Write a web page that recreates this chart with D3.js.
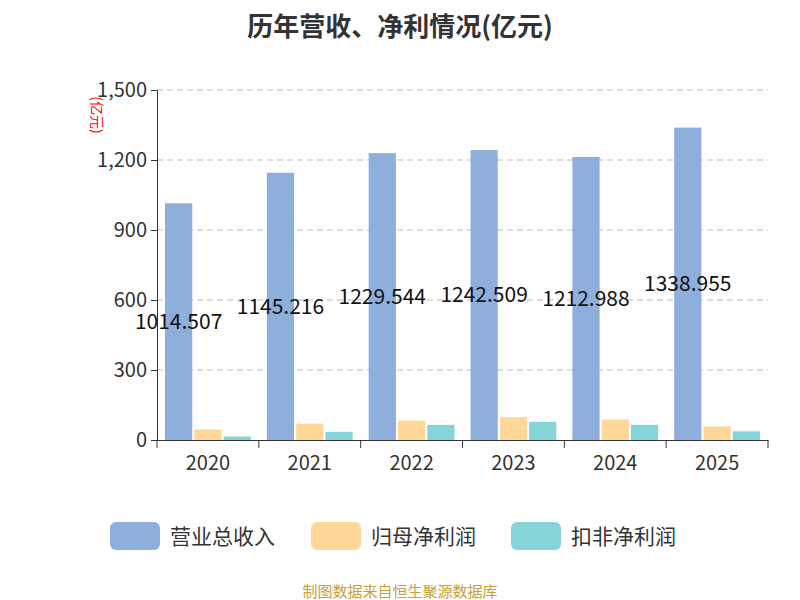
<!DOCTYPE html>
<html><head><meta charset="utf-8">
<script src="https://cdn.jsdelivr.net/npm/d3@7"></script>
<style>body{margin:0;background:#fff}text{font-family:"Noto Sans CJK SC","Noto Sans",sans-serif}</style>
</head><body><svg width="800" height="600"></svg>
<script>
"use strict";
const years = ["2020", "2021", "2022", "2023", "2024", "2025"];
const revenue = [1014.507, 1145.216, 1229.544, 1242.509, 1212.988, 1338.955];
const netProfit = [45, 70, 83, 98, 88, 58];
const deducted = [15, 35, 65, 78, 65, 37];
const seriesNames = ["营业总收入", "归母净利润", "扣非净利润"];
const colors = ["#8eaedb", "#ffd899", "#85d4d8"];
const yTicks = [0, 300, 600, 900, 1200, 1500];

const svg = d3.select("svg");
const plotLeft = 157, plotRight = 768, plotTop = 90, plotBottom = 440;

svg.append("text").attr("x", 400).attr("y", 36).attr("text-anchor", "middle")
   .attr("font-size", 26).attr("font-weight", "bold").attr("fill", "#333")
   .text("历年营收、净利情况(亿元)");

const x = d3.scaleBand().domain(years).range([plotLeft, plotRight]);
const y = d3.scaleLinear().domain([0, 1500]).range([plotBottom, plotTop]);
const inner = d3.scaleBand().domain([0, 1, 2]).range([8, x.bandwidth() - 8]).paddingInner(0.07);

// grid
svg.append("g").selectAll("line").data(yTicks.slice(1)).join("line")
   .attr("x1", plotLeft).attr("x2", plotRight).attr("y1", d => y(d)).attr("y2", d => y(d))
   .attr("stroke", "#bbb").attr("stroke-dasharray", "6,4");

const fmt = d3.format(",");
const yAxis = svg.append("g").attr("transform", `translate(${plotLeft},0)`)
   .call(d3.axisLeft(y).tickValues(yTicks).tickFormat(fmt).tickSize(6).tickPadding(4));
yAxis.selectAll("text").attr("font-size", 20).attr("fill", "#333");
yAxis.selectAll("line,path").attr("stroke", "#333");

const xAxis = svg.append("g").attr("transform", `translate(0,${plotBottom})`)
   .call(d3.axisBottom(x).tickSize(0).tickPadding(16));
xAxis.selectAll("text").attr("font-size", 20).attr("fill", "#333");
xAxis.select("path").attr("stroke", "#333");
xAxis.append("g").selectAll("line").data(d3.range(years.length + 1)).join("line")
   .attr("x1", i => plotLeft + i * x.step()).attr("x2", i => plotLeft + i * x.step())
   .attr("y1", 0).attr("y2", 8).attr("stroke", "#333");

svg.append("text").attr("transform", "translate(92,115) rotate(90)")
   .attr("text-anchor", "middle").attr("font-size", 14).attr("fill", "red").text("(亿元)");

const all = [revenue, netProfit, deducted];
all.forEach((vals, s) => {
   svg.append("g").selectAll("rect").data(vals).join("rect")
      .attr("x", (d, i) => x(years[i]) + inner(s)).attr("width", inner.bandwidth())
      .attr("y", d => y(d)).attr("height", d => plotBottom - y(d)).attr("fill", colors[s]);
});

svg.append("g").selectAll("text").data(revenue).join("text")
   .attr("x", (d, i) => x(years[i]) + inner(0) + inner.bandwidth() / 2)
   .attr("y", d => y(d / 2)).attr("dy", "0.35em").attr("text-anchor", "middle")
   .attr("font-size", 21).attr("fill", "#111").text(d => d.toFixed(3));

// legend
const legendX = [110, 311, 511];
seriesNames.forEach((name, i) => {
   svg.append("rect").attr("x", legendX[i]).attr("y", 522).attr("width", 50).attr("height", 28)
      .attr("rx", 6).attr("fill", colors[i]);
   svg.append("text").attr("x", legendX[i] + 60).attr("y", 544).attr("font-size", 21)
      .attr("fill", "#333").text(name);
});

svg.append("text").attr("x", 400).attr("y", 597).attr("text-anchor", "middle")
   .attr("font-size", 15).attr("fill", "#c9a03a").text("制图数据来自恒生聚源数据库");
</script></body></html>
